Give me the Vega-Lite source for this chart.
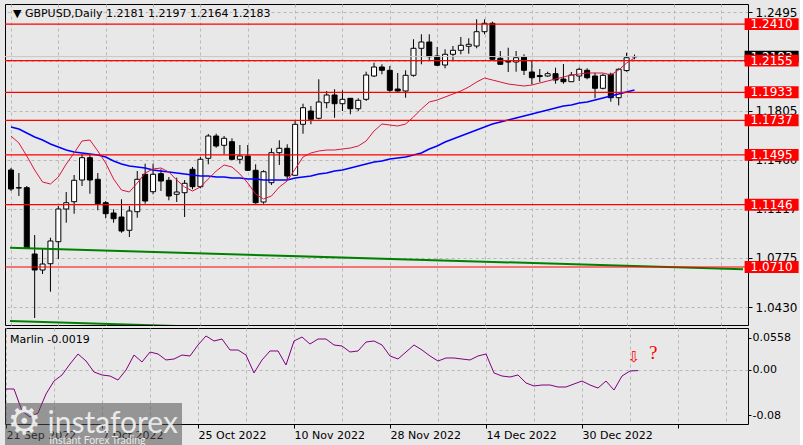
{
  "$schema": "https://vega.github.io/schema/vega-lite/v6.json",
  "background": "#e8e8e8",
  "padding": {"left": 3, "top": 3, "right": 0, "bottom": 0},
  "spacing": 1,
  "config": {
    "view": {"stroke": "#000000", "strokeWidth": 1, "fill": "#e8e8e8"},
    "font": "DejaVu Sans",
    "axis": {"domain": false, "title": null, "labelColor": "#000000", "tickColor": "#000000", "gridColor": "#b8b8b8", "gridDash": [3, 3], "labelFont": "DejaVu Sans", "labelOverlap": false, "labelBound": false, "labelFlush": false}
  },
  "resolve": {"scale": {"x": "independent", "y": "independent"}},
  "datasets": {
    "bars": [
      {"i":0,"d":"2022-09-21","o":1.1389,"h":1.1403,"l":1.1242,"c":1.1256,"r":1.1627,"b":1.1690,"m":-0.0342},
      {"i":1,"d":"2022-09-22","o":1.1265,"h":1.1368,"l":1.1207,"c":1.1263,"r":1.1578,"b":1.1676,"m":-0.0342},
      {"i":2,"d":"2022-09-23","o":1.1265,"h":1.1277,"l":1.0836,"c":1.0840,"r":1.1487,"b":1.1648,"m":-0.0728},
      {"i":3,"d":"2022-09-26","o":1.0801,"h":1.0934,"l":1.0353,"c":1.0689,"r":1.1389,"b":1.1620,"m":-0.0833},
      {"i":4,"d":"2022-09-27","o":1.0689,"h":1.0843,"l":1.0661,"c":1.0731,"r":1.1305,"b":1.1599,"m":-0.0763},
      {"i":5,"d":"2022-09-28","o":1.0733,"h":1.0915,"l":1.0537,"c":1.0892,"r":1.1291,"b":1.1571,"m":-0.0430},
      {"i":6,"d":"2022-09-29","o":1.0887,"h":1.1137,"l":1.0766,"c":1.1116,"r":1.1340,"b":1.1550,"m":-0.0202},
      {"i":7,"d":"2022-09-30","o":1.1116,"h":1.1235,"l":1.1020,"c":1.1160,"r":1.1431,"b":1.1529,"m":-0.0096},
      {"i":8,"d":"2022-10-03","o":1.1167,"h":1.1354,"l":1.1083,"c":1.1317,"r":1.1508,"b":1.1515,"m":0.0096},
      {"i":9,"d":"2022-10-04","o":1.1319,"h":1.1499,"l":1.1277,"c":1.1475,"r":1.1592,"b":1.1508,"m":0.0272},
      {"i":10,"d":"2022-10-05","o":1.1475,"h":1.1499,"l":1.1223,"c":1.1319,"r":1.1599,"b":1.1501,"m":0.0149},
      {"i":11,"d":"2022-10-06","o":1.1324,"h":1.1368,"l":1.1107,"c":1.1153,"r":1.1522,"b":1.1494,"m":-0.0044},
      {"i":12,"d":"2022-10-07","o":1.1160,"h":1.1172,"l":1.1051,"c":1.1083,"r":1.1438,"b":1.1480,"m":-0.0096},
      {"i":13,"d":"2022-10-10","o":1.1088,"h":1.1114,"l":1.1020,"c":1.1048,"r":1.1326,"b":1.1452,"m":-0.0114},
      {"i":14,"d":"2022-10-11","o":1.1060,"h":1.1184,"l":1.0950,"c":1.0962,"r":1.1249,"b":1.1431,"m":-0.0184},
      {"i":15,"d":"2022-10-12","o":1.0967,"h":1.1137,"l":1.0920,"c":1.1102,"r":1.1235,"b":1.1417,"m":-0.0009},
      {"i":16,"d":"2022-10-13","o":1.1097,"h":1.1382,"l":1.1055,"c":1.1324,"r":1.1298,"b":1.1410,"m":0.0254},
      {"i":17,"d":"2022-10-14","o":1.1359,"h":1.1433,"l":1.1153,"c":1.1172,"r":1.1368,"b":1.1403,"m":0.0132},
      {"i":18,"d":"2022-10-17","o":1.1237,"h":1.1433,"l":1.1219,"c":1.1359,"r":1.1396,"b":1.1389,"m":0.0307},
      {"i":19,"d":"2022-10-18","o":1.1363,"h":1.1394,"l":1.1242,"c":1.1312,"r":1.1403,"b":1.1382,"m":0.0272},
      {"i":20,"d":"2022-10-19","o":1.1317,"h":1.1340,"l":1.1177,"c":1.1207,"r":1.1375,"b":1.1375,"m":0.0167},
      {"i":21,"d":"2022-10-20","o":1.1219,"h":1.1335,"l":1.1165,"c":1.1235,"r":1.1319,"b":1.1368,"m":0.0184},
      {"i":22,"d":"2022-10-21","o":1.1230,"h":1.1319,"l":1.1060,"c":1.1296,"r":1.1270,"b":1.1361,"m":0.0254},
      {"i":23,"d":"2022-10-24","o":1.1394,"h":1.1410,"l":1.1254,"c":1.1272,"r":1.1242,"b":1.1354,"m":0.0237},
      {"i":24,"d":"2022-10-25","o":1.1272,"h":1.1480,"l":1.1261,"c":1.1464,"r":1.1270,"b":1.1347,"m":0.0430},
      {"i":25,"d":"2022-10-26","o":1.1471,"h":1.1641,"l":1.1429,"c":1.1627,"r":1.1326,"b":1.1347,"m":0.0588},
      {"i":26,"d":"2022-10-27","o":1.1627,"h":1.1643,"l":1.1545,"c":1.1557,"r":1.1382,"b":1.1340,"m":0.0500},
      {"i":27,"d":"2022-10-28","o":1.1562,"h":1.1627,"l":1.1499,"c":1.1611,"r":1.1424,"b":1.1340,"m":0.0535},
      {"i":28,"d":"2022-10-31","o":1.1587,"h":1.1611,"l":1.1457,"c":1.1464,"r":1.1410,"b":1.1333,"m":0.0342},
      {"i":29,"d":"2022-11-01","o":1.1464,"h":1.1564,"l":1.1433,"c":1.1487,"r":1.1361,"b":1.1333,"m":0.0342},
      {"i":30,"d":"2022-11-02","o":1.1487,"h":1.1564,"l":1.1382,"c":1.1387,"r":1.1298,"b":1.1326,"m":0.0254},
      {"i":31,"d":"2022-11-03","o":1.1387,"h":1.1429,"l":1.1153,"c":1.1160,"r":1.1221,"b":1.1326,"m":-0.0061},
      {"i":32,"d":"2022-11-04","o":1.1165,"h":1.1387,"l":1.1153,"c":1.1377,"r":1.1186,"b":1.1319,"m":0.0167},
      {"i":33,"d":"2022-11-07","o":1.1300,"h":1.1541,"l":1.1284,"c":1.1510,"r":1.1207,"b":1.1319,"m":0.0325},
      {"i":34,"d":"2022-11-08","o":1.1510,"h":1.1597,"l":1.1424,"c":1.1541,"r":1.1270,"b":1.1319,"m":0.0325},
      {"i":35,"d":"2022-11-09","o":1.1541,"h":1.1569,"l":1.1324,"c":1.1347,"r":1.1312,"b":1.1319,"m":0.0079},
      {"i":36,"d":"2022-11-10","o":1.1352,"h":1.1732,"l":1.1347,"c":1.1709,"r":1.1396,"b":1.1333,"m":0.0500},
      {"i":37,"d":"2022-11-11","o":1.1709,"h":1.1853,"l":1.1643,"c":1.1825,"r":1.1480,"b":1.1340,"m":0.0570},
      {"i":38,"d":"2022-11-14","o":1.1802,"h":1.1837,"l":1.1709,"c":1.1744,"r":1.1508,"b":1.1347,"m":0.0447},
      {"i":39,"d":"2022-11-15","o":1.1751,"h":1.2024,"l":1.1744,"c":1.1865,"r":1.1522,"b":1.1361,"m":0.0535},
      {"i":40,"d":"2022-11-16","o":1.1860,"h":1.1942,"l":1.1821,"c":1.1914,"r":1.1529,"b":1.1368,"m":0.0535},
      {"i":41,"d":"2022-11-17","o":1.1914,"h":1.1954,"l":1.1755,"c":1.1853,"r":1.1529,"b":1.1382,"m":0.0430},
      {"i":42,"d":"2022-11-18","o":1.1853,"h":1.1947,"l":1.1802,"c":1.1884,"r":1.1536,"b":1.1389,"m":0.0412},
      {"i":43,"d":"2022-11-21","o":1.1891,"h":1.1891,"l":1.1779,"c":1.1818,"r":1.1543,"b":1.1403,"m":0.0307},
      {"i":44,"d":"2022-11-22","o":1.1818,"h":1.1891,"l":1.1802,"c":1.1877,"r":1.1557,"b":1.1417,"m":0.0325},
      {"i":45,"d":"2022-11-23","o":1.1884,"h":1.2077,"l":1.1872,"c":1.2054,"r":1.1592,"b":1.1431,"m":0.0482},
      {"i":46,"d":"2022-11-24","o":1.2047,"h":1.2140,"l":1.2040,"c":1.2110,"r":1.1662,"b":1.1445,"m":0.0500},
      {"i":47,"d":"2022-11-25","o":1.2110,"h":1.2129,"l":1.2059,"c":1.2087,"r":1.1711,"b":1.1452,"m":0.0430},
      {"i":48,"d":"2022-11-28","o":1.2087,"h":1.2117,"l":1.1935,"c":1.1947,"r":1.1704,"b":1.1466,"m":0.0237},
      {"i":49,"d":"2022-11-29","o":1.1956,"h":1.2068,"l":1.1932,"c":1.1942,"r":1.1697,"b":1.1473,"m":0.0184},
      {"i":50,"d":"2022-11-30","o":1.1942,"h":1.2087,"l":1.1895,"c":1.2052,"r":1.1711,"b":1.1480,"m":0.0307},
      {"i":51,"d":"2022-12-01","o":1.2052,"h":1.2304,"l":1.2042,"c":1.2241,"r":1.1760,"b":1.1494,"m":0.0430},
      {"i":52,"d":"2022-12-02","o":1.2241,"h":1.2339,"l":1.2129,"c":1.2285,"r":1.1816,"b":1.1508,"m":0.0342},
      {"i":53,"d":"2022-12-05","o":1.2285,"h":1.2339,"l":1.2152,"c":1.2182,"r":1.1865,"b":1.1536,"m":0.0237},
      {"i":54,"d":"2022-12-06","o":1.2187,"h":1.2250,"l":1.2117,"c":1.2122,"r":1.1879,"b":1.1557,"m":0.0149},
      {"i":55,"d":"2022-12-07","o":1.2124,"h":1.2234,"l":1.2101,"c":1.2199,"r":1.1900,"b":1.1585,"m":0.0202},
      {"i":56,"d":"2022-12-08","o":1.2199,"h":1.2257,"l":1.2152,"c":1.2227,"r":1.1921,"b":1.1606,"m":0.0202},
      {"i":57,"d":"2022-12-09","o":1.2227,"h":1.2320,"l":1.2199,"c":1.2262,"r":1.1942,"b":1.1627,"m":0.0184},
      {"i":58,"d":"2022-12-12","o":1.2255,"h":1.2311,"l":1.2203,"c":1.2269,"r":1.1970,"b":1.1648,"m":0.0167},
      {"i":59,"d":"2022-12-13","o":1.2257,"h":1.2444,"l":1.2241,"c":1.2357,"r":1.2005,"b":1.1669,"m":0.0237},
      {"i":60,"d":"2022-12-14","o":1.2357,"h":1.2444,"l":1.2339,"c":1.2416,"r":1.2033,"b":1.1690,"m":0.0272},
      {"i":61,"d":"2022-12-15","o":1.2416,"h":1.2427,"l":1.2152,"c":1.2164,"r":1.2019,"b":1.1711,"m":-0.0061},
      {"i":62,"d":"2022-12-16","o":1.2171,"h":1.2222,"l":1.2124,"c":1.2129,"r":1.2005,"b":1.1725,"m":-0.0114},
      {"i":63,"d":"2022-12-19","o":1.2148,"h":1.2245,"l":1.2075,"c":1.2145,"r":1.1991,"b":1.1739,"m":-0.0132},
      {"i":64,"d":"2022-12-20","o":1.2145,"h":1.2222,"l":1.2077,"c":1.2175,"r":1.1984,"b":1.1753,"m":-0.0096},
      {"i":65,"d":"2022-12-21","o":1.2180,"h":1.2199,"l":1.2054,"c":1.2087,"r":1.1977,"b":1.1767,"m":-0.0237},
      {"i":66,"d":"2022-12-22","o":1.2075,"h":1.2152,"l":1.1989,"c":1.2035,"r":1.1984,"b":1.1781,"m":-0.0289},
      {"i":67,"d":"2022-12-23","o":1.2050,"h":1.2096,"l":1.2005,"c":1.2043,"r":1.1998,"b":1.1795,"m":-0.0272},
      {"i":68,"d":"2022-12-26","o":1.2047,"h":1.2077,"l":1.2042,"c":1.2063,"r":1.2012,"b":1.1809,"m":-0.0272},
      {"i":69,"d":"2022-12-27","o":1.2063,"h":1.2105,"l":1.1993,"c":1.2019,"r":1.2026,"b":1.1823,"m":-0.0307},
      {"i":70,"d":"2022-12-28","o":1.2026,"h":1.2131,"l":1.1993,"c":1.2007,"r":1.2040,"b":1.1837,"m":-0.0307},
      {"i":71,"d":"2022-12-29","o":1.2007,"h":1.2075,"l":1.2005,"c":1.2054,"r":1.2054,"b":1.1844,"m":-0.0254},
      {"i":72,"d":"2022-12-30","o":1.2047,"h":1.2105,"l":1.2012,"c":1.2094,"r":1.2061,"b":1.1858,"m":-0.0202},
      {"i":73,"d":"2023-01-02","o":1.2087,"h":1.2101,"l":1.2024,"c":1.2035,"r":1.2068,"b":1.1865,"m":-0.0272},
      {"i":74,"d":"2023-01-03","o":1.2047,"h":1.2070,"l":1.1891,"c":1.1961,"r":1.2068,"b":1.1879,"m":-0.0325},
      {"i":75,"d":"2023-01-04","o":1.1961,"h":1.2063,"l":1.1954,"c":1.2052,"r":1.2068,"b":1.1893,"m":-0.0202},
      {"i":76,"d":"2023-01-05","o":1.2059,"h":1.2070,"l":1.1867,"c":1.1895,"r":1.2054,"b":1.1907,"m":-0.0360},
      {"i":77,"d":"2023-01-06","o":1.1895,"h":1.2101,"l":1.1841,"c":1.2094,"r":1.2089,"b":1.1921,"m":-0.0114},
      {"i":78,"d":"2023-01-09","o":1.2085,"h":1.2210,"l":1.2077,"c":1.2175,"r":1.2138,"b":1.1935,"m":-0.0026},
      {"i":79,"d":"2023-01-10","o":1.2181,"h":1.2197,"l":1.2164,"c":1.2183,"r":1.2173,"b":1.1949,"m":-0.0019}
    ],
    "trend": [
      {"line":"a","i":-0.125,"p":1.0845},
      {"line":"a","i":92.75,"p":1.0694},
      {"line":"b","i":-0.125,"p":1.0332},
      {"line":"b","i":92.75,"p":1.0178}
    ],
    "levels": [
      {"level":1.2410},{"level":1.2155},{"level":1.1933},{"level":1.1737},{"level":1.1495},{"level":1.1146},{"level":1.0710}
    ],
    "current": [{"price":1.2183}],
    "heads": [{"t":"▼  GBPUSD,Daily  1.2181 1.2197 1.2164 1.2183","i":0.25,"p":1.2481}],
    "ind": [{"t":"Marlin -0.0019","i":0.5,"v":0.0518}],
    "arrow": [{"i":78.5,"v":0.022,"t":"⇩"}],
    "qmark": [{"i":80.9,"v":0.029,"t":"?"}],
    "brand": [{"name":"instaforex","sub":"Instant Forex Trading","logo":"⚙"}]
  },
  "vconcat": [
    {
      "width": 743,
      "height": 321,
      "layer": [
        {
          "data": {"name": "bars"},
          "mark": {"type": "rule", "color": "#000000", "strokeWidth": 1, "clip": true},
          "encoding": {
            "x": {"field": "i", "type": "quantitative", "scale": {"domain": [-0.125, 92.75], "nice": false, "zero": false},
                  "axis": {"values": [0,6,12,18,24,30,36,42,48,54,60,66,72,78,84,90], "grid": true, "labels": false, "ticks": false, "domain": false, "title": null}},
            "y": {"field": "l", "type": "quantitative", "scale": {"domain": [1.0304, 1.2551], "nice": false, "zero": false},
                  "axis": {"orient": "right", "values": [1.043, 1.0775, 1.1117, 1.146, 1.1805, 1.215, 1.2495], "format": ".4f", "grid": true, "tickSize": 4, "labelPadding": 3, "labelFontSize": 12, "labelBaseline": "middle", "title": null}},
            "y2": {"field": "h"}
          }
        },
        {
          "data": {"name": "bars"},
          "mark": {"type": "bar", "width": 5, "stroke": "#000000", "strokeWidth": 1, "clip": true},
          "encoding": {
            "x": {"field": "i", "type": "quantitative"},
            "y": {"field": "o", "type": "quantitative"},
            "y2": {"field": "c"},
            "fill": {"condition": {"test": "datum.c >= datum.o", "value": "#ffffff"}, "value": "#000000"}
          }
        },
        {
          "data": {"name": "trend"},
          "mark": {"type": "line", "color": "#008000", "strokeWidth": 2, "clip": true},
          "encoding": {
            "x": {"field": "i", "type": "quantitative"},
            "y": {"field": "p", "type": "quantitative"},
            "detail": {"field": "line"}
          }
        },
        {
          "data": {"name": "bars"},
          "mark": {"type": "line", "color": "#0000ff", "strokeWidth": 1.5, "clip": true},
          "encoding": {
            "x": {"field": "i", "type": "quantitative"},
            "y": {"field": "b", "type": "quantitative"}
          }
        },
        {
          "data": {"name": "bars"},
          "mark": {"type": "line", "color": "#dc143c", "strokeWidth": 1, "clip": true},
          "encoding": {
            "x": {"field": "i", "type": "quantitative"},
            "y": {"field": "r", "type": "quantitative"}
          }
        },
        {
          "data": {"name": "current"},
          "mark": {"type": "rule", "color": "#c8c8c8", "strokeWidth": 1},
          "encoding": {"y": {"field": "price", "type": "quantitative"}}
        },
        {
          "data": {"name": "levels"},
          "mark": {"type": "rule", "color": "#ff0000", "strokeWidth": 1.2},
          "encoding": {"y": {"field": "level", "type": "quantitative"}}
        },
        {
          "data": {"name": "heads"},
          "mark": {"type": "text", "color": "#000000", "fontSize": 11, "align": "left", "baseline": "middle", "font": "DejaVu Sans"},
          "encoding": {"x": {"field": "i", "type": "quantitative"}, "y": {"field": "p", "type": "quantitative"}, "text": {"field": "t"}}
        },
        {
          "data": {"name": "current"},
          "mark": {"type": "point", "shape": "M-1,-0.22H1V0.22H-1Z", "filled": true, "size": 2916, "color": "#000000", "opacity": 1, "strokeWidth": 0},
          "encoding": {"x": {"datum": 96.375}, "y": {"field": "price", "type": "quantitative"}}
        },
        {
          "data": {"name": "current"},
          "mark": {"type": "text", "color": "#ffffff", "fontSize": 12, "align": "center", "baseline": "middle"},
          "encoding": {"x": {"datum": 96.375}, "y": {"field": "price", "type": "quantitative"}, "text": {"field": "price", "type": "quantitative", "format": ".4f"}}
        },
        {
          "data": {"name": "levels"},
          "mark": {"type": "point", "shape": "M-1,-0.22H1V0.22H-1Z", "filled": true, "size": 2916, "color": "#ff0000", "opacity": 1, "strokeWidth": 0},
          "encoding": {"x": {"datum": 96.375}, "y": {"field": "level", "type": "quantitative"}}
        },
        {
          "data": {"name": "levels"},
          "mark": {"type": "text", "color": "#ffffff", "fontSize": 12, "align": "center", "baseline": "middle"},
          "encoding": {"x": {"datum": 96.375}, "y": {"field": "level", "type": "quantitative"}, "text": {"field": "level", "type": "quantitative", "format": ".4f"}}
        }
      ]
    },
    {
      "width": 743,
      "height": 96,
      "layer": [
        {
          "data": {"name": "bars"},
          "mark": {"type": "line", "color": "#800080", "strokeWidth": 1, "clip": true},
          "encoding": {
            "x": {"field": "i", "type": "quantitative", "scale": {"domain": [-0.125, 92.75], "nice": false, "zero": false},
                  "axis": {"values": [0,6,12,18,24,30,36,42,48,54,60,66,72,78,84,90], "grid": true, "domain": false, "tickSize": 4, "labelPadding": 1, "labelFontSize": 11, "labelAlign": "left", "labelDx": -2,
                           "tickOpacity": {"condition": {"test": "datum.value % 12 === 0", "value": 1}, "value": 0},
                           "labelExpr": "datum.value === 0 ? '21 Sep 2022' : datum.value === 12 ? '7 Oct 2022' : datum.value === 24 ? '25 Oct 2022' : datum.value === 36 ? '10 Nov 2022' : datum.value === 48 ? '28 Nov 2022' : datum.value === 60 ? '14 Dec 2022' : datum.value === 72 ? '30 Dec 2022' : ''",
                           "title": null}},
            "y": {"field": "m", "type": "quantitative", "scale": {"domain": [-0.0956, 0.0728], "nice": false, "zero": false},
                  "axis": {"orient": "right", "values": [0.0558, 0, -0.08], "grid": true, "tickSize": 3, "labelPadding": 1, "labelFontSize": 11, "labelBaseline": "middle",
                           "gridOpacity": {"condition": {"test": "datum.value === 0", "value": 1}, "value": 0},
                           "labelExpr": "datum.value === 0 ? '0.00' : (datum.value > 0 ? '0.0558' : '-0.08')",
                           "title": null}}
          }
        },
        {
          "data": {"name": "ind"},
          "mark": {"type": "text", "color": "#000000", "fontSize": 11, "align": "left", "baseline": "middle", "font": "DejaVu Sans"},
          "encoding": {"x": {"field": "i", "type": "quantitative"}, "y": {"field": "v", "type": "quantitative"}, "text": {"field": "t"}}
        },
        {
          "data": {"name": "arrow"},
          "mark": {"type": "text", "color": "#ff0000", "fontSize": 15, "align": "center", "baseline": "middle", "font": "DejaVu Sans"},
          "encoding": {"x": {"field": "i", "type": "quantitative"}, "y": {"field": "v", "type": "quantitative"}, "text": {"field": "t"}}
        },
        {
          "data": {"name": "qmark"},
          "mark": {"type": "text", "color": "#ff0000", "fontSize": 19, "align": "center", "baseline": "middle", "font": "Liberation Serif"},
          "encoding": {"x": {"field": "i", "type": "quantitative"}, "y": {"field": "v", "type": "quantitative"}, "text": {"field": "t"}}
        },
        {
          "data": {"name": "brand"},
          "mark": {"type": "rect", "color": "#505050", "opacity": 0.55},
          "encoding": {"x": {"datum": -0.125}, "x2": {"datum": 22}, "y": {"datum": -0.0588}, "y2": {"datum": -0.1377}}
        },
        {
          "data": {"name": "brand"},
          "mark": {"type": "text", "color": "#f4f4f4", "fontSize": 38, "align": "center", "baseline": "middle", "opacity": 0.9},
          "encoding": {"x": {"datum": 2.3}, "y": {"datum": -0.094}, "text": {"field": "logo"}}
        },
        {
          "data": {"name": "brand"},
          "mark": {"type": "text", "color": "#f4f4f4", "fontSize": 30, "font": "Lato", "align": "left", "baseline": "alphabetic", "opacity": 0.9},
          "encoding": {"x": {"datum": 5.2}, "y": {"datum": -0.1114}, "text": {"field": "name"}}
        },
        {
          "data": {"name": "brand"},
          "mark": {"type": "text", "color": "#f4f4f4", "fontSize": 10.5, "font": "Lato", "align": "left", "baseline": "alphabetic", "opacity": 0.9},
          "encoding": {"x": {"datum": 5.4}, "y": {"datum": -0.1307}, "text": {"field": "sub"}}
        }
      ]
    }
  ]
}
